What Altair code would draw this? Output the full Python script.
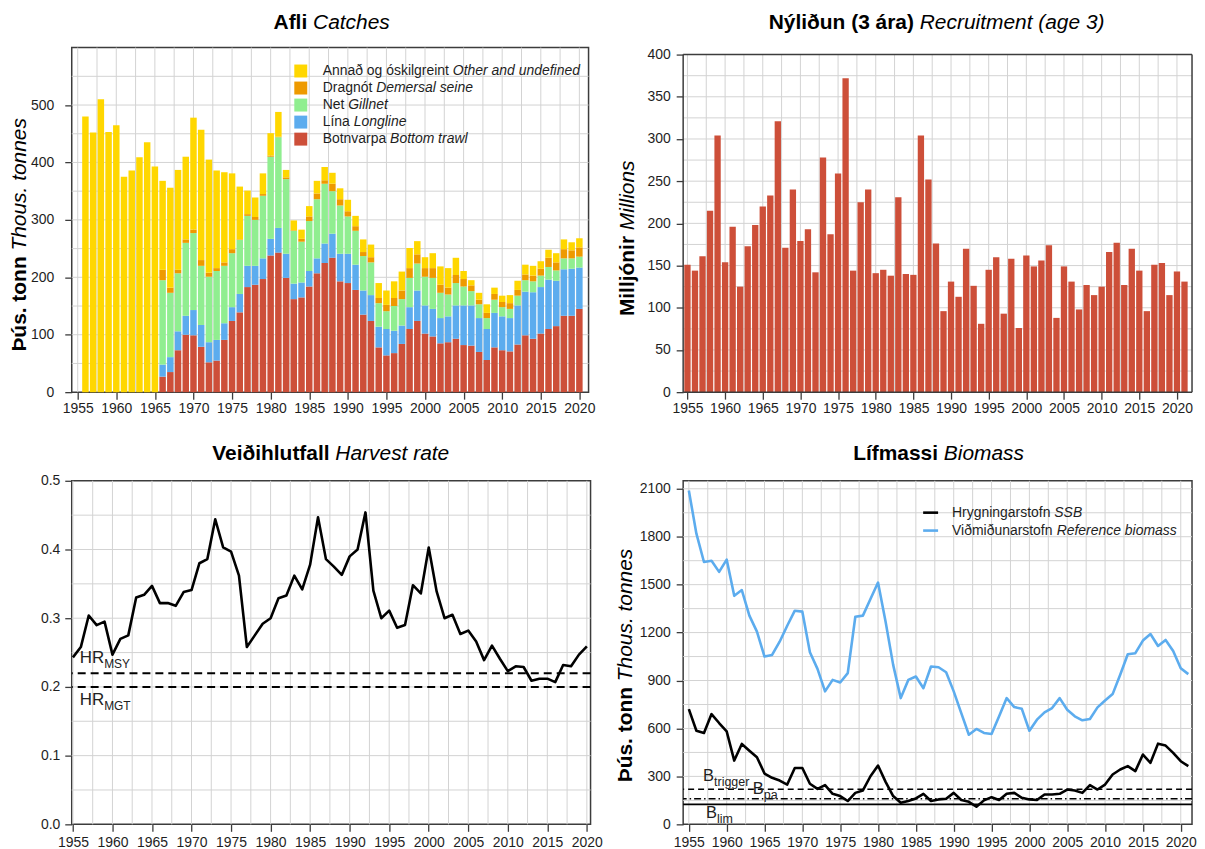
import altair as alt
import numpy as np
import pandas as pd

FONT = "Liberation Sans"
YELLOW = "#FFD700"
ORANGE = "#EE9A00"
GREEN = "#90EE90"
BLUE = "#5CACEE"
RED = "#CD4F39"
GRID = "#D3D3D3"
FRAME = "#3C3C3C"
LBL = "#1E1E1E"

# ---------------- data ----------------
catch_years = list(range(1956, 2021))
other = [480, 452, 510, 453, 465, 375, 386, 409, 435, 393,
         155, 174, 174, 144, 195, 227, 197, 170, 157, 132,
         92, 41, 34, 36, 39, 43, 13, 17, 16, 18,
         22, 23, 19, 19, 20, 18, 22, 22, 26, 25,
         29, 33, 35, 23, 19, 26, 32, 34, 30, 14,
         9, 12, 15, 11, 11, 14, 16, 17, 17, 13,
         14, 16, 17, 14, 16]
seine = [0] * 10 + [18, 9, 6, 6, 6, 10, 7, 5, 6, 7,
                    1, 3, 5, 3, 2, 1, 3, 1, 5, 8,
                    10, 6, 13, 11, 9, 8, 7, 9, 9, 11,
                    14, 15, 17, 16, 15, 17, 14, 12, 14, 13,
                    10, 8, 9, 10, 9, 10, 10, 10, 10, 12,
                    16, 14, 16, 14, 16]
gillnet = [0] * 10 + [147, 112, 101, 127, 134, 103, 114, 120, 100, 94,
                      94, 87, 80, 109, 143, 158, 130, 92, 71, 87,
                      103, 104, 74, 84, 65, 59, 60, 57, 41, 31,
                      43, 46, 51, 47, 50, 54, 44, 38, 39, 33,
                      25, 24, 19, 23, 16, 16, 17, 20, 19, 20,
                      22, 18, 19, 18, 19]
longline = [0] * 10 + [21, 26, 33, 33, 44, 38, 35, 36, 29, 24,
                       32, 37, 33, 36, 29, 43, 42, 27, 26, 27,
                       26, 34, 42, 48, 51, 44, 42, 45, 36, 46,
                       39, 32, 38, 53, 49, 48, 44, 45, 58, 69,
                       70, 59, 54, 60, 59, 58, 68, 76, 81, 81,
                       86, 79, 81, 82, 72]
trawl = [0] * 10 + [27, 35, 73, 100, 99, 79, 52, 55, 91, 124,
                    139, 183, 187, 197, 238, 243, 199, 162, 165, 184,
                    207, 225, 234, 193, 190, 178, 135, 124, 78, 64,
                    68, 84, 110, 124, 102, 97, 85, 87, 93, 82,
                    81, 70, 56, 78, 73, 71, 83, 99, 93, 102,
                    110, 115, 133, 133, 145]

rec_years = list(range(1955, 2022))
recruitment = [151, 144, 161, 215, 304, 154, 196, 125, 173, 198,
               220, 233, 321, 171, 240, 179, 193, 142, 278, 187,
               259, 372, 144, 225, 240, 141, 145, 138, 231, 140,
               139, 304, 252, 176, 96, 131, 113, 170, 126, 81,
               145, 160, 93, 158, 76, 162, 149, 156, 174, 88,
               149, 131, 98, 127, 115, 125, 166, 177, 127, 170,
               144, 96, 151, 153, 115, 143, 131]

hr_years = list(range(1955, 2021))
harvest_rate = [0.243, 0.258, 0.304, 0.290, 0.295, 0.247, 0.270, 0.275, 0.330, 0.334,
                0.347, 0.322, 0.322, 0.318, 0.338, 0.341, 0.380, 0.386, 0.444, 0.403,
                0.397, 0.362, 0.258, 0.275, 0.292, 0.300, 0.329, 0.333, 0.362, 0.342,
                0.378, 0.447, 0.386, 0.375, 0.363, 0.390, 0.400, 0.454, 0.340, 0.300,
                0.311, 0.286, 0.290, 0.348, 0.336, 0.403, 0.339, 0.300, 0.305, 0.277,
                0.282, 0.266, 0.239, 0.260, 0.241, 0.223, 0.230, 0.229, 0.209, 0.212,
                0.212, 0.207, 0.232, 0.230, 0.247, 0.259]
HR_MSY = 0.22
HR_MGT = 0.20

bio_years = list(range(1955, 2022))
ssb = [721, 586, 572, 690, 634, 582, 399, 503, 461, 420,
       318, 291, 274, 249, 353, 353, 254, 222, 245, 191,
       177, 146, 197, 212, 301, 368, 266, 177, 135, 146,
       162, 191, 146, 156, 160, 197, 152, 141, 110, 150,
       170, 152, 191, 197, 166, 156, 152, 187, 187, 191,
       218, 212, 197, 245, 218, 249, 312, 343, 364, 333,
       437, 385, 505, 493, 447, 395, 364]
ref_biomass = [2089, 1819, 1642, 1649, 1580, 1657, 1430, 1466, 1306, 1206,
               1050, 1060, 1143, 1243, 1337, 1331, 1077, 973, 832, 904,
               888, 946, 1299, 1306, 1410, 1513, 1268, 998, 790, 904,
               925, 852, 988, 983, 952, 832, 696, 561, 597, 572,
               565, 676, 790, 734, 723, 586, 655, 701, 728, 790,
               717, 676, 651, 659, 732, 775, 815, 936, 1064, 1071,
               1150, 1191, 1116, 1154, 1085, 977, 940]
B_TRIGGER = 220
B_PA = 160
B_LIM = 125

year_ticks = list(range(1955, 2021, 5))
grid_years = [1955 + 2.5 * i for i in range(27)]

# ---------------- text width helpers (Arial / Liberation metrics) ----------------
REG = {' ': 278, '(': 333, ')': 333, '.': 278, ',': 278, '-': 333,
       'A': 667, 'B': 667, 'C': 722, 'D': 722, 'E': 667, 'F': 611, 'G': 778, 'H': 722, 'I': 278,
       'J': 500, 'K': 667, 'L': 556, 'M': 833, 'N': 722, 'O': 778, 'P': 667, 'Q': 778, 'R': 722,
       'S': 667, 'T': 611, 'U': 722, 'V': 667, 'W': 944, 'X': 667, 'Y': 667, 'Z': 611, 'Þ': 667,
       'a': 556, 'b': 556, 'c': 500, 'd': 556, 'e': 556, 'f': 278, 'g': 556, 'h': 556, 'i': 222,
       'j': 222, 'k': 500, 'l': 222, 'm': 833, 'n': 556, 'o': 556, 'p': 556, 'q': 556, 'r': 333,
       's': 500, 't': 278, 'u': 556, 'v': 500, 'w': 722, 'x': 500, 'y': 500, 'z': 500,
       'á': 556, 'é': 556, 'í': 278, 'ó': 556, 'ú': 556, 'ý': 500, 'ð': 556, 'þ': 556}
BOLD = {' ': 278, '(': 333, ')': 333, '.': 278,
        'A': 722, 'B': 722, 'C': 722, 'H': 722, 'L': 611, 'M': 833, 'N': 722, 'R': 722,
        'V': 667, 'Þ': 667,
        'a': 556, 'b': 611, 'c': 556, 'd': 611, 'e': 556, 'f': 333, 'g': 611, 'h': 611, 'i': 278,
        'j': 278, 'k': 556, 'l': 278, 'm': 889, 'n': 611, 'o': 611, 'p': 611, 'r': 389,
        's': 556, 't': 333, 'u': 611, 'v': 556, 'y': 556,
        'á': 556, 'í': 278, 'ó': 611, 'ú': 611, 'ý': 556, 'ð': 611}


def tw(s, size, bold=False):
    tab = BOLD if bold else REG
    return sum(tab.get(c, 556) for c in s) * size / 1000.0


dummy = pd.DataFrame({"k": [0]})


def text_mark(text, x, size, y=None, ydatum=None, ys=None, ay=None, weight=None,
              style=None, align="left", angle=None, dx=None, dy=None, color="black"):
    props = dict(text=text, font=FONT, fontSize=size, align=align, baseline="middle", color=color)
    if weight:
        props["fontWeight"] = weight
    if style:
        props["fontStyle"] = style
    if angle:
        props["angle"] = angle
    if dx:
        props["dx"] = dx
    if dy:
        props["dy"] = dy
    enc = {"x": alt.value(x)}
    if ydatum is not None:
        enc["y"] = alt.YDatum(ydatum, scale=ys, axis=ay)
    else:
        enc["y"] = alt.value(y)
    return alt.Chart(dummy).mark_text(**props).encode(**enc)


def htitle(bold, ital, cx, cy, size=21):
    wb = tw(bold, size, True)
    ws = tw(" ", size)
    wi = tw(ital, size)
    xa = cx - (wb + ws + wi) / 2 + wb
    return [text_mark(bold, xa, size, y=cy, weight="bold", align="right"),
            text_mark(ital, xa, size, y=cy, style="italic", align="left", dx=ws)]


def vtitle(bold, ital, cx, cy, size=21):
    wb = tw(bold, size, True)
    ws = tw(" ", size)
    wi = tw(ital, size)
    ya = cy + (wb + ws + wi) / 2 - wb
    return [text_mark(bold, cx, size, y=ya, weight="bold", align="right", angle=270),
            text_mark(ital, cx, size, y=ya, style="italic", align="left", angle=270, dx=ws)]


def legend_text(normal, ital, x, y, size=14):
    wn = tw(normal, size)
    ws = tw(" ", size)
    return [text_mark(normal, x, size, y=y, color=LBL),
            text_mark(ital, x + wn + ws, size, y=y, style="italic", color=LBL)]


def sub_label(main, sub, x, ydatum, dy, ys, ay, size=16.5, ssize=12.5, sdy=6):
    wm = tw(main, size)
    return [text_mark(main, x, size, ydatum=ydatum, ys=ys, ay=ay, dy=dy, color="#222222"),
            text_mark(sub, x + wm, ssize, ydatum=ydatum, ys=ys, ay=ay, dy=dy + sdy, color="#222222")]


def x_axis(pad=2):
    return alt.Axis(values=year_ticks, format="d", title=None, grid=False, domain=False,
                    ticks=True, tickSize=7, tickColor=FRAME, tickWidth=1.3,
                    labelFont=FONT, labelFontSize=14, labelColor=LBL, labelPadding=pad,
                    labelOverlap=False, labelFlush=False)


def y_axis(vals, fmt, pad):
    return alt.Axis(values=vals, format=fmt, title=None, grid=False, domain=False,
                    ticks=True, tickSize=7, tickColor=FRAME, tickWidth=1.3,
                    labelFont=FONT, labelFontSize=14, labelColor=LBL, labelPadding=pad,
                    labelOverlap=False, labelFlush=False)


def vgrid(xs, ax, ys=None, ay=None, top=None):
    ch = alt.Chart(pd.DataFrame({"g": grid_years})).mark_rule(color=GRID, strokeWidth=1)
    if top is None:
        return ch.encode(x=alt.X("g:Q", scale=xs, axis=ax))
    return ch.encode(x=alt.X("g:Q", scale=xs, axis=ax),
                     y=alt.YDatum(top, scale=ys, axis=ay),
                     y2=alt.datum(0))


def hgrid(vals, ys, ay):
    return alt.Chart(pd.DataFrame({"g": vals})).mark_rule(
        color=GRID, strokeWidth=1).encode(y=alt.Y("g:Q", scale=ys, axis=ay))


# ---------------- Panel 1: catches ----------------
W1, H1 = 519, 346
XS1 = alt.Scale(domain=[1954.226, 2021.19], nice=False, zero=False)
YS1 = alt.Scale(domain=[0, 600], nice=False)
AX1 = x_axis()
AY1 = y_axis(list(range(0, 501, 100)), "d", 11)

gears = [("Botnvarpa", trawl, RED), ("Lína", longline, BLUE), ("Net", gillnet, GREEN),
         ("Dragnót", seine, ORANGE), ("Annað", other, YELLOW)]
rows = []
cum = np.zeros(len(catch_years))
for name, vals, col in gears:
    v = np.array(vals, dtype=float)
    for i, yr in enumerate(catch_years):
        if v[i] > 0:
            rows.append({"year": yr, "gear": name, "y0": cum[i], "y1": cum[i] + v[i]})
    cum = cum + v
catch_df = pd.DataFrame(rows)

bars1 = alt.Chart(catch_df).transform_calculate(
    xa="datum.year - 0.42", xb="datum.year + 0.42"
).mark_bar().encode(
    x=alt.X("xa:Q", scale=XS1, axis=AX1),
    x2="xb:Q",
    y=alt.Y("y0:Q", scale=YS1, axis=AY1),
    y2="y1:Q",
    color=alt.Color("gear:N", scale=alt.Scale(domain=[g[0] for g in gears],
                                              range=[g[2] for g in gears]), legend=None),
)

leg1 = []
leg_entries = [("Annað og óskilgreint", "Other and undefined", YELLOW),
               ("Dragnót", "Demersal seine", ORANGE),
               ("Net", "Gillnet", GREEN),
               ("Lína", "Longline", BLUE),
               ("Botnvarpa", "Bottom trawl", RED)]
for i, (n, e, c) in enumerate(leg_entries):
    yy = 23.5 + 17.1 * i
    leg1.append(alt.Chart(dummy).mark_square(size=169, color=c, opacity=1).encode(
        x=alt.value(230), y=alt.value(yy)))
    leg1 += legend_text(n, e, 252, yy)

anchor = alt.Chart(dummy).mark_point(size=0, opacity=0).encode(x=alt.value(-63), y=alt.value(-37))

p1 = alt.layer(
    vgrid(XS1, AX1), hgrid(list(range(50, 551, 50)), YS1, AY1), bars1, *leg1,
    *htitle("Afli", "Catches", 261, -25),
    *vtitle("Þús. tonn", "Thous. tonnes", -52, H1 / 2 + 15),
    anchor,
).properties(width=W1, height=H1)

# ---------------- Panel 2: recruitment ----------------
W2, H2 = 511, 346
XS2 = alt.Scale(domain=[1954.43, 2022.0], nice=False, zero=False)
YS2 = alt.Scale(domain=[0, 408.26], nice=False)
AX2 = x_axis()
AY2 = y_axis(list(range(0, 401, 50)), "d", 6)
rec_df = pd.DataFrame({"year": rec_years, "rec": recruitment})
bars2 = alt.Chart(rec_df).transform_calculate(
    xa="datum.year - 0.42", xb="datum.year + 0.42"
).mark_bar(color=RED).encode(
    x=alt.X("xa:Q", scale=XS2, axis=AX2), x2="xb:Q",
    y=alt.Y("rec:Q", scale=YS2, axis=AY2), y2=alt.datum(0),
)
fr = dict(color=FRAME, strokeWidth=1.5)
frame2 = [
    alt.Chart(dummy).mark_rule(**fr).encode(y=alt.YDatum(400, scale=YS2, axis=AY2)),
    alt.Chart(dummy).mark_rule(**fr).encode(y=alt.YDatum(0, scale=YS2, axis=AY2)),
    alt.Chart(dummy).mark_rule(**fr).encode(x=alt.value(0), y=alt.YDatum(400, scale=YS2, axis=AY2),
                                            y2=alt.datum(0)),
    alt.Chart(dummy).mark_rule(**fr).encode(x=alt.value(W2), y=alt.YDatum(400, scale=YS2, axis=AY2),
                                            y2=alt.datum(0)),
]
p2 = alt.layer(
    vgrid(XS2, AX2, YS2, AY2, top=400), hgrid(list(range(25, 376, 25)), YS2, AY2), bars2,
    *frame2,
    *htitle("Nýliðun (3 ára)", "Recruitment (age 3)", 254.5, -25),
    *vtitle("Milljónir", "Millions", -55, 176.5 + 15),
).properties(width=W2, height=H2, view=alt.ViewBackground(strokeOpacity=0))

# ---------------- Panel 3: harvest rate ----------------
W3, H3 = 521, 345
XS3 = alt.Scale(domain=[1954.849, 2020.467], nice=False, zero=False)
YS3 = alt.Scale(domain=[0, 0.5], nice=False)
AX3 = x_axis(4)
AY3 = y_axis([0, 0.1, 0.2, 0.3, 0.4, 0.5], ".1f", 5)
hr_df = pd.DataFrame({"year": hr_years, "hr": harvest_rate})
line3 = alt.Chart(hr_df).mark_line(color="black", strokeWidth=2.6, strokeJoin="round").encode(
    x=alt.X("year:Q", scale=XS3, axis=AX3), y=alt.Y("hr:Q", scale=YS3, axis=AY3))
msy_rule = alt.Chart(dummy).mark_rule(color="black", strokeWidth=2, strokeDash=[8, 5]).encode(
    y=alt.YDatum(HR_MSY, scale=YS3, axis=AY3))
mgt_rule = alt.Chart(dummy).mark_rule(color="black", strokeWidth=2, strokeDash=[8, 5]).encode(
    y=alt.YDatum(HR_MGT, scale=YS3, axis=AY3))
p3 = alt.layer(
    vgrid(XS3, AX3), hgrid([round(0.05 * k, 2) for k in range(1, 10)], YS3, AY3),
    msy_rule, mgt_rule, line3,
    *sub_label("HR", "MSY", 8, HR_MSY, -15, YS3, AY3, size=17, ssize=12),
    *sub_label("HR", "MGT", 8, HR_MGT, 13, YS3, AY3, size=17, ssize=12),
    *htitle("Veiðihlutfall", "Harvest rate", 259.5, -27),
).properties(width=W3, height=H3)

# ---------------- Panel 4: biomass ----------------
W4, H4 = 511, 345
XS4 = alt.Scale(domain=[1954.25, 2021.49], nice=False, zero=False)
YS4 = alt.Scale(domain=[0, 2150], nice=False)
AX4 = x_axis(4)
AY4 = y_axis(list(range(0, 2101, 300)), "d", 6)
bio_df = pd.DataFrame({"year": bio_years, "ssb": ssb, "ref": ref_biomass})
ref_line = alt.Chart(bio_df).mark_line(color=BLUE, strokeWidth=2.6, strokeJoin="round").encode(
    x=alt.X("year:Q", scale=XS4, axis=AX4), y=alt.Y("ref:Q", scale=YS4, axis=AY4))
ssb_line = alt.Chart(bio_df).mark_line(color="black", strokeWidth=2.6, strokeJoin="round").encode(
    x=alt.X("year:Q", scale=XS4, axis=AX4), y=alt.Y("ssb:Q", scale=YS4, axis=AY4))
btr_rule = alt.Chart(dummy).mark_rule(color="black", strokeWidth=1.6, strokeDash=[6, 4]).encode(
    y=alt.YDatum(B_TRIGGER, scale=YS4, axis=AY4))
bpa_rule = alt.Chart(dummy).mark_rule(color="black", strokeWidth=1.6, strokeDash=[7, 3, 1.5, 3]).encode(
    y=alt.YDatum(B_PA, scale=YS4, axis=AY4))
blim_rule = alt.Chart(dummy).mark_rule(color="black", strokeWidth=1.6).encode(
    y=alt.YDatum(B_LIM, scale=YS4, axis=AY4))
leg4 = []
for i, (n, e, c) in enumerate([("Hrygningarstofn", "SSB", "black"),
                               ("Viðmiðunarstofn", "Reference biomass", BLUE)]):
    yy = 32 + 18 * i
    leg4.append(alt.Chart(dummy).mark_rule(color=c, strokeWidth=2.6).encode(
        x=alt.value(241), x2=alt.value(256), y=alt.value(yy)))
    leg4 += legend_text(n, e, 270, yy)
p4 = alt.layer(
    vgrid(XS4, AX4), hgrid(list(range(150, 2101, 150)), YS4, AY4),
    btr_rule, bpa_rule, blim_rule, ref_line, ssb_line, *leg4,
    *sub_label("B", "trigger", 20, B_TRIGGER, -13, YS4, AY4),
    *sub_label("B", "pa", 70, B_PA, -10, YS4, AY4),
    *sub_label("B", "lim", 23, B_LIM, 9, YS4, AY4),
    *htitle("Lífmassi", "Biomass", 256.5, -27),
    *vtitle("Þús. tonn", "Thous. tonnes", -57, H4 / 2 + 13),
).properties(width=W4, height=H4)

# ---------------- layout ----------------
chart = alt.concat(
    p1, p2, p3, p4, columns=2, bounds="flush",
    spacing={"row": 89, "column": 93},
).properties(
    padding=0
).configure_view(
    stroke=FRAME, strokeWidth=1.5
).configure_text(font=FONT)

chart.save("out.html", embed_options={"renderer": "svg", "actions": False})
